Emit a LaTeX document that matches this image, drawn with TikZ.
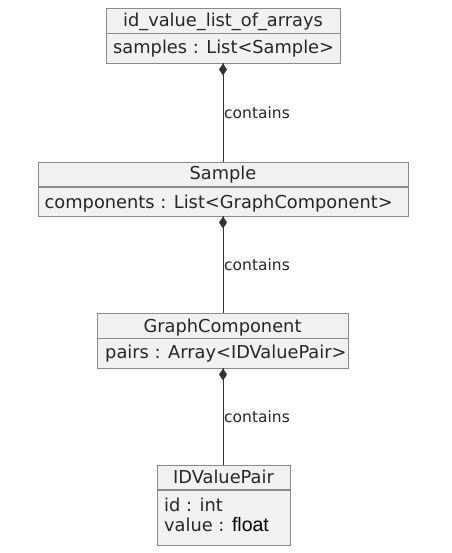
\documentclass[tikz,border=0pt]{standalone}
\usepackage{fontspec}
\setmainfont{DejaVu Sans}
\newfontfamily\arialfont{Liberation Sans}
\definecolor{boxfill}{HTML}{F1F1F1}
\definecolor{boxline}{HTML}{8A8A8A}
\definecolor{conline}{HTML}{333333}
\begin{document}
\begin{tikzpicture}[x=1pt,y=-1pt,
  umlbox/.style={draw=boxline,fill=boxfill,line width=1.1pt,anchor=north west,inner sep=0pt},
  divider/.style={draw=boxline,line width=1.1pt},
  title/.style={anchor=base,inner sep=0pt,font=\fontsize{17.8}{20}\selectfont,text=black!85},
  attr/.style={anchor=base west,inner sep=0pt,font=\fontsize{17.8}{20}\selectfont,text=black!85},
  conn/.style={draw=conline,line width=1pt},
  lbl/.style={anchor=west,inner sep=0pt,font=\fontsize{15.5}{18}\selectfont,text=black!85}]
\useasboundingbox[fill=white] (0,0) rectangle (451,553);
% boxes
\node[umlbox,minimum width=234pt,minimum height=55pt] (b1) at (106,8) {};
\node[umlbox,minimum width=370pt,minimum height=54pt] (b2) at (38,162) {};
\node[umlbox,minimum width=251pt,minimum height=55pt] (b3) at (97,313) {};
\node[umlbox,minimum width=133pt,minimum height=80pt] (b4) at (157,465) {};
% dividers
\draw[divider] (106,33.5) -- (340,33.5);
\draw[divider] (38,187) -- (408,187);
\draw[divider] (97,338.5) -- (348,338.5);
\draw[divider] (157,490) -- (290,490);
% texts
\node[title] (t1) at (223,27) {id\_value\_list\_of\_arrays};
\node[attr] (a1) at (113,53.5) {samples : List<Sample>};
\node[title] (t2) at (223,180) {Sample};
\node[attr] (a2) at (44.5,208) {components : List<GraphComponent>};
\node[title] (t3) at (222.5,332) {GraphComponent};
\node[attr] (a3) at (105,358) {pairs : Array<IDValuePair>};
\node[title] (t4) at (223.5,483) {IDValuePair};
\node[attr] (a4) at (164,511) {id : int};
\node[attr] (a5) at (164,531) {value : {\arialfont\fontsize{19.5}{20}\selectfont\color{black}float}};
% connectors
\coordinate (c1) at (223,63);
\coordinate (c2) at (223,216);
\coordinate (c3) at (223,368);
\draw[conn] (c1) -- (b2.north -| c1);
\draw[conn] (c2) -- (b3.north -| c2);
\draw[conn] (c3) -- (b4.north -| c3);
\foreach \c in {c1,c2,c3}{
  \fill[conline,shift={(\c)}] (0,0.5) -- (4,6.5) -- (0,12.5) -- (-4,6.5) -- cycle;
}
\node[lbl] (l1) at (224,112.5) {contains};
\node[lbl] (l2) at (224,264.5) {contains};
\node[lbl] (l3) at (224,416.5) {contains};
\end{tikzpicture}
\end{document}
